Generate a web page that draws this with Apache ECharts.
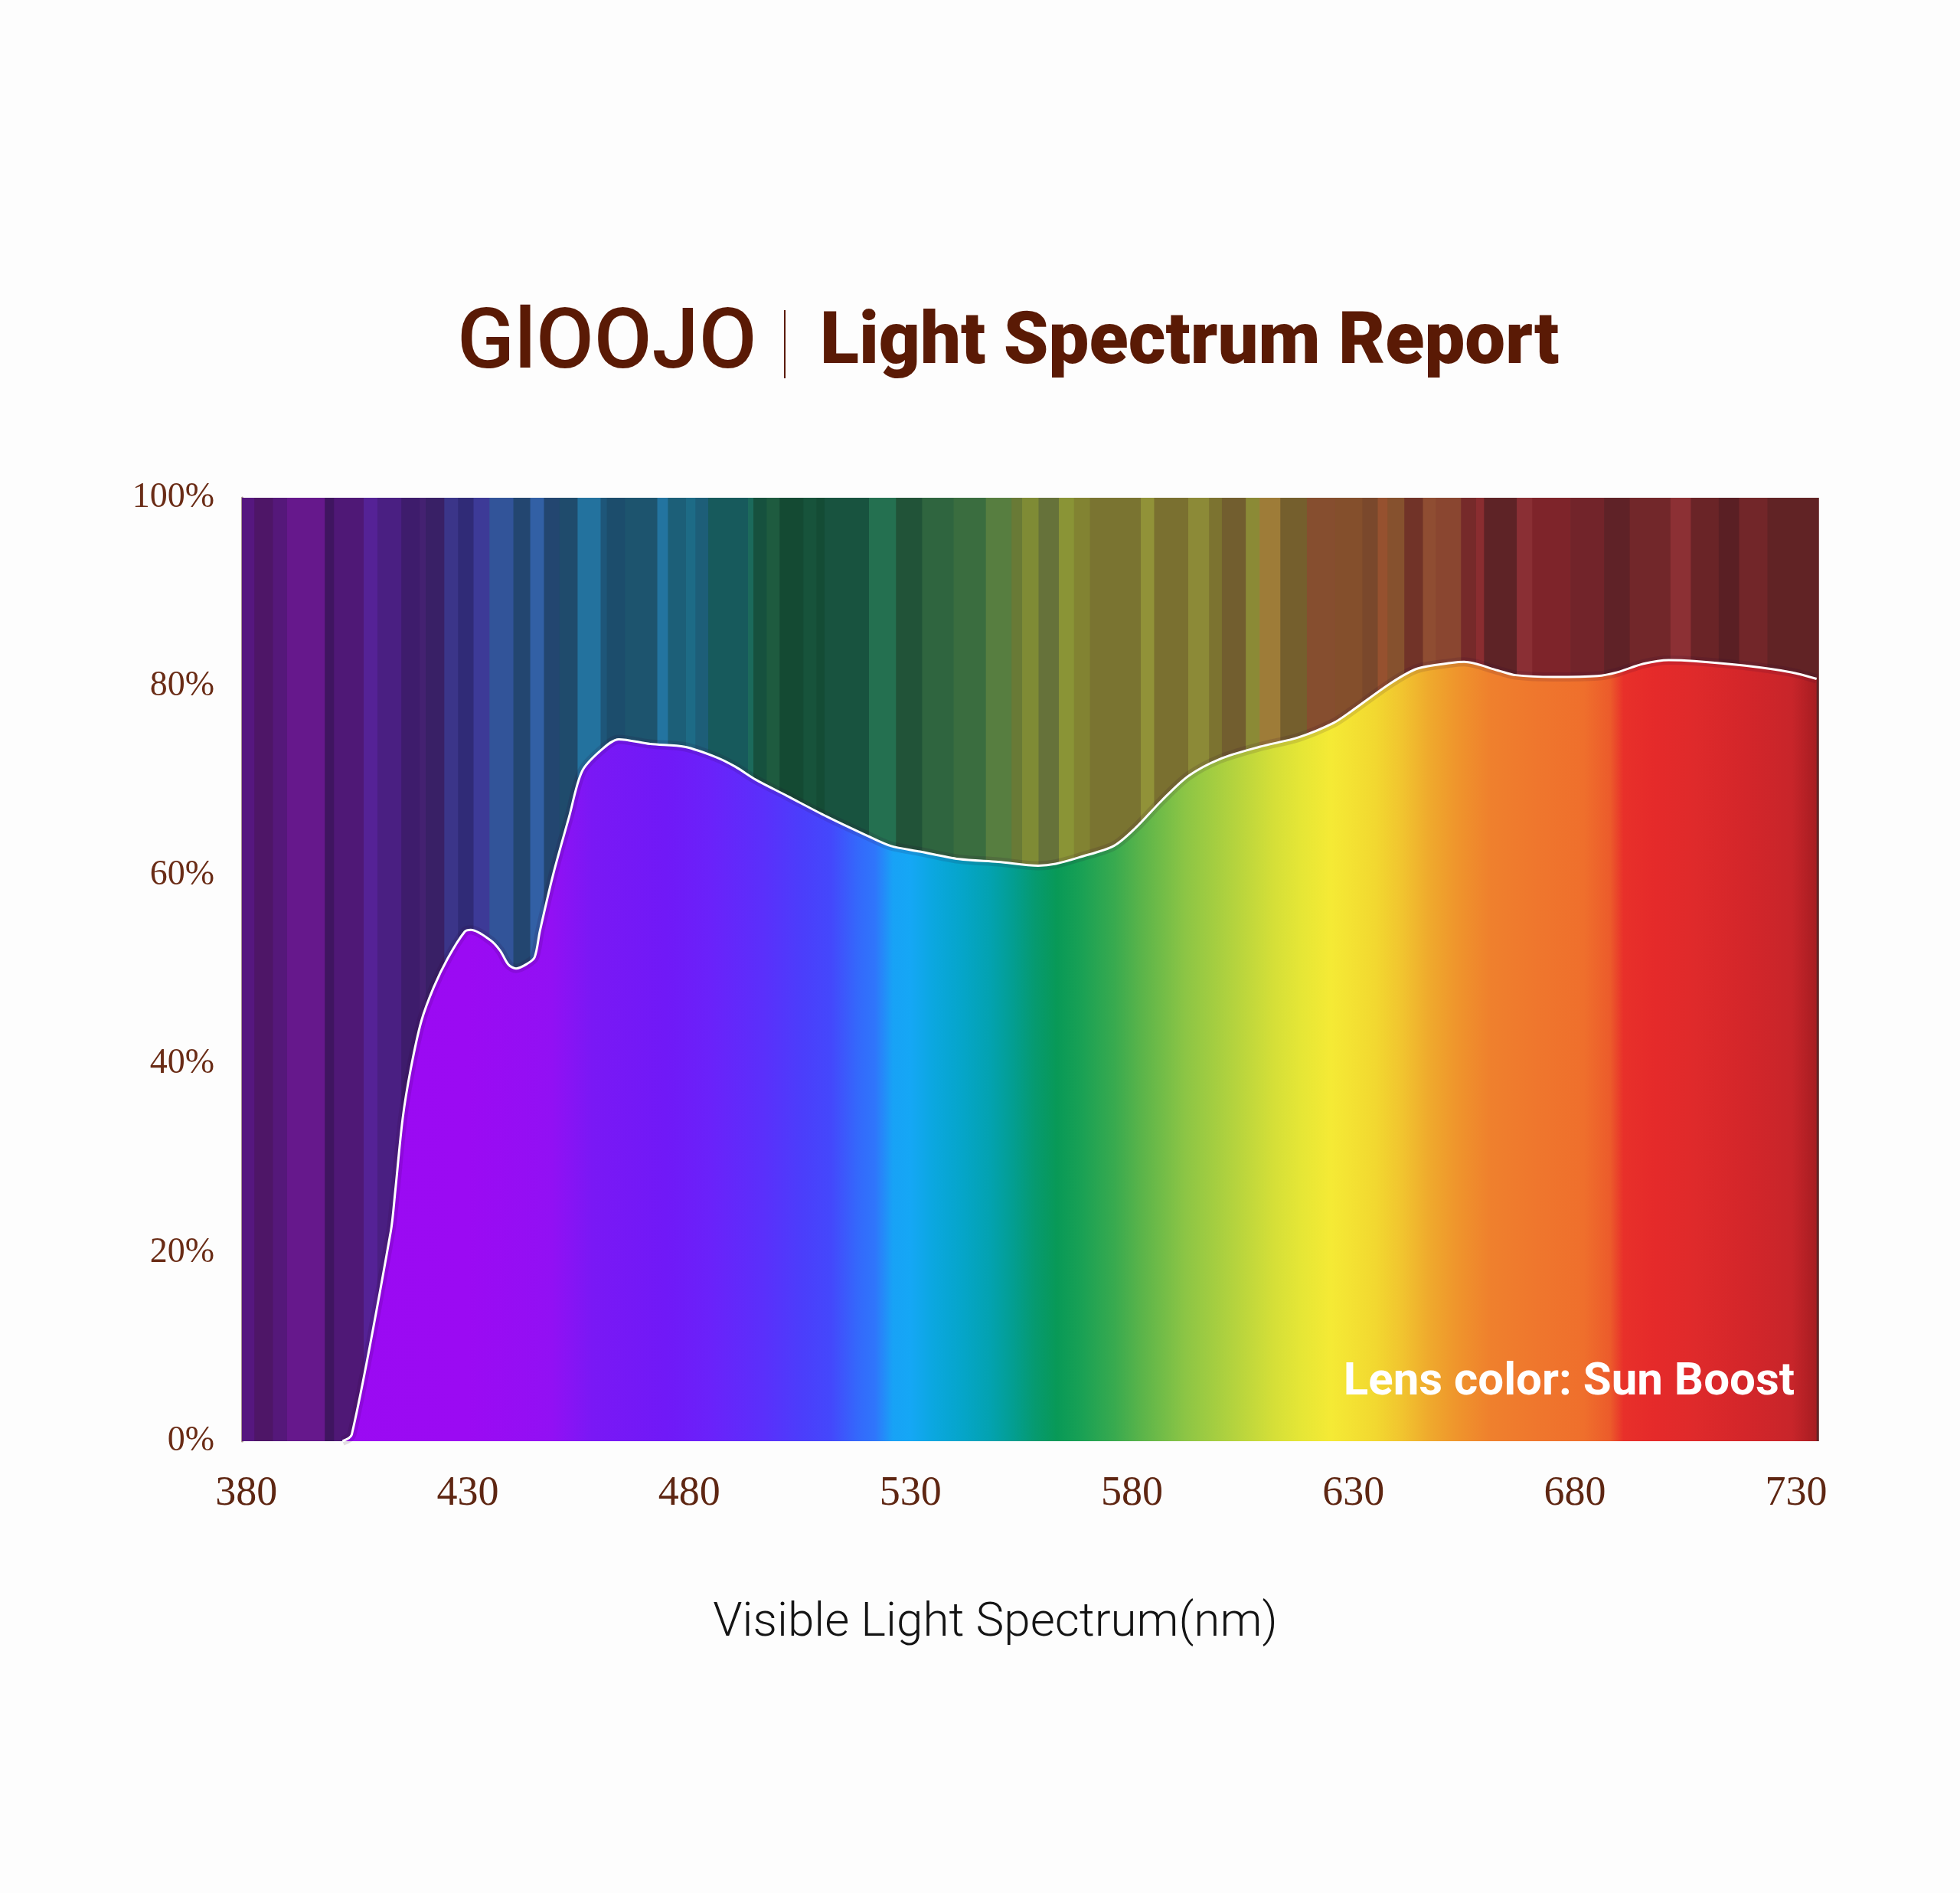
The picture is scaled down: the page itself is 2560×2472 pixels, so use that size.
<!DOCTYPE html>
<html>
<head>
<meta charset="utf-8">
<script src="https://cdn.jsdelivr.net/npm/echarts@6/dist/echarts.min.js"></script>
<style>
html,body{margin:0;padding:0;background:#fdfdfd;}
#chart{width:2560px;height:2472px;}
</style>
</head>
<body>
<div id="chart"></div>
<script>
// ---- data ----
const wavelengths = [379, 401.7, 403.8, 412.6, 413.6, 415.3, 417.1, 419.5, 422.3, 425.5, 429.3, 430.7,
  435.1, 437.3, 439.2, 440.9, 443.4, 445.1, 446.3, 449.3, 452.9, 455.8, 460.0, 464.1, 471.2, 479.0,
  486.1, 490.4, 495.1, 502.1, 511.1, 520.1, 525.5, 532.1, 540.9, 549.8, 558.8, 562.8, 568.2, 575.9,
  580.8, 586.7, 592.7, 599.8, 608.8, 617.6, 625.4, 629.6, 638.6, 644.5, 652.3, 655.0, 662.6, 666.6,
  675.2, 685.1, 689.6, 695.5, 701.2, 706.9, 718.5, 728.9, 734.6];
const transmittance = [0, 0, 0.7, 22.2, 26.4, 34.2, 39.4, 44.5, 48.1, 51.2, 54.0, 54.2,
  53.1, 52.0, 50.5, 50.1, 50.6, 51.3, 54.1, 60.1, 66.2, 71.0, 73.2, 74.4, 73.9, 73.6,
  72.5, 71.5, 70.1, 68.4, 66.2, 64.2, 63.1, 62.5, 61.7, 61.4, 61.0, 61.2, 61.9, 63.1,
  65.0, 67.9, 70.5, 72.3, 73.6, 74.6, 76.1, 77.4, 80.4, 81.9, 82.5, 82.6, 81.7, 81.2,
  81.0, 81.1, 81.5, 82.4, 82.8, 82.7, 82.2, 81.5, 80.8];
const xTickLabels = [380, 430, 480, 530, 580, 630, 680, 730];
const yTickLabels = [0, 20, 40, 60, 80, 100];

// background (dimmed) spectrum stripes: start wavelength of each stripe
const stripeStarts = [379, 381.8, 386, 389.2, 397.7, 399.8, 406.5, 409.6, 415, 419.1, 420.5, 424.7,
  427.8, 431.3, 434.9, 440.3, 444.1, 447.2, 450.7, 454.8, 460, 461.4, 465.5, 472.8, 475.2, 479.3,
  481.4, 484.3, 493.3, 494.5, 497.5, 500.4, 505.8, 508.7, 510.6, 520.6, 526.7, 532.6, 539.7, 547,
  552.8, 555.2, 558.9, 563.5, 566.9, 570.5, 582, 585, 592.7, 597.4, 600.3, 605.7, 608.8, 613.5,
  619.5, 625.9, 632, 635.5, 637.7, 641.5, 645.7, 648.6, 654.3, 657.7, 659.5, 666.9, 670.4, 679,
  686.6, 692.4, 701.6, 706.2, 712.5, 717.1, 723.5];
const stripeEnd = 735;
const stripeColors = ['#56177f', '#4e1667', '#55187a', '#66188c', '#3f1560', '#4f1876', '#552296', '#4a1f82',
  '#3e1c6c', '#442171', '#392066', '#3b3589', '#302b77', '#3d3a97', '#325499', '#234670', '#3260a5',
  '#234670', '#1f4b6c', '#23729e', '#1e5679', '#1c4d6c', '#1d546e', '#2374a0', '#1c5f78', '#1d6b86',
  '#1d5e78', '#175a5c', '#1b6a5b', '#16513e', '#1e5b3f', '#144a33', '#17533b', '#144c35', '#18533f',
  '#247050', '#215338', '#2f653f', '#3a6d3f', '#577e40', '#697a36', '#7f8b35', '#66723a', '#8a9436',
  '#828332', '#7a7431', '#919238', '#7a7030', '#8c8a37', '#7c7330', '#725e2f', '#8b8a36', '#9e7c38',
  '#755f2d', '#864e2f', '#844f2c', '#7a482c', '#96512f', '#86512e', '#713328', '#8f4d32', '#8a4630',
  '#762a2a', '#8a2d30', '#5e2326', '#8a2f34', '#7e242a', '#72242a', '#5f2227', '#72272a', '#8c3034',
  '#6a2427', '#5a1f24', '#722629', '#612325'];

// vivid spectrum under the curve
const spectrumStops = [379, 430, 449, 458, 475, 485, 497, 505, 512, 518, 522, 526, 530, 535, 542, 548,
  553, 558, 563, 568, 576, 582, 592, 603, 612, 618, 625, 635, 641, 647, 653, 661, 672, 682, 688, 691,
  698, 707, 718, 729, 733, 735];
const spectrumColors = ['#9a0af2', '#9b0af3', '#9210f4', '#7a18f5', '#7019f7', '#6a22fa', '#5a30fb', '#4c3dfb',
  '#4448fc', '#3468fb', '#2f76fb', '#18a2f6', '#15a7f5', '#0ba7e0', '#05a5c8', '#03a2b0', '#039e92',
  '#069a70', '#089957', '#17a055', '#38aa4f', '#5ab44a', '#8cc545', '#b4d33e', '#d5df38', '#e5e636',
  '#f5ea35', '#f2d830', '#f1c42f', '#efaa2d', '#ef962c', '#ef802d', '#ef762d', '#ef6f2c', '#ec5b2b',
  '#e8302a', '#e52a2a', '#df2a2b', '#d4262a', '#c8252a', '#b01f24', '#a61d22'];

// ---- chart ----
const chart = echarts.init(document.getElementById('chart'), null, {renderer: 'canvas'});
const xMin = 379, xMax = 735;
const curve = wavelengths.map((w, i) => [w, transmittance[i]]);
const firstRise = transmittance.findIndex(v => v > 0) - 1;
const lineCurve = curve.slice(Math.max(0, firstRise));
const stripes = stripeStarts.map((s, i) => [s, i + 1 < stripeStarts.length ? stripeStarts[i + 1] : stripeEnd, i]);
const wFirst = wavelengths[0], wLast = wavelengths[wavelengths.length - 1];
const gradStops = spectrumStops.map((w, i) => ({
  offset: Math.min(1, Math.max(0, (w - wFirst) / (wLast - wFirst))),
  color: spectrumColors[i]
}));

const brown = '#5a1a05';
const option = {
  backgroundColor: '#fdfdfd',
  animation: false,
  grid: {left: 316, right: 185, top: 650, bottom: 590, containLabel: false},
  xAxis: {
    type: 'value', min: xMin, max: xMax,
    axisLine: {show: false}, axisTick: {show: false}, splitLine: {show: false},
    axisLabel: {
      customValues: xTickLabels,
      margin: 42,
      fontFamily: '"Liberation Serif", "DejaVu Serif", serif',
      fontSize: 54, color: '#5e2612'
    }
  },
  yAxis: {
    type: 'value', min: 0, max: 100,
    axisLine: {show: true, lineStyle: {color: '#a8978f', width: 3}},
    axisTick: {show: false}, splitLine: {show: false},
    axisLabel: {
      customValues: yTickLabels,
      formatter: '{value}%', margin: 36,
      fontFamily: '"Liberation Serif", "DejaVu Serif", serif',
      fontSize: 46, color: '#6a2c16'
    }
  },
  series: [
    {
      type: 'custom', name: 'stripes', z: 1, silent: true,
      data: stripes,
      encode: {x: [0, 1]},
      renderItem: function (params, api) {
        const a = api.coord([api.value(0), 100]);
        const b = api.coord([api.value(1), 0]);
        return {
          type: 'rect',
          shape: {x: a[0], y: a[1], width: b[0] - a[0] + 0.8, height: b[1] - a[1]},
          style: {fill: stripeColors[api.value(2)]}
        };
      }
    },
    {
      type: 'line', name: 'fill', z: 2, silent: true,
      data: curve, smooth: 0.3, symbol: 'none',
      lineStyle: {width: 0},
      areaStyle: {opacity: 1, color: new echarts.graphic.LinearGradient(0, 0, 1, 0, gradStops)}
    },
    {
      type: 'line', name: 'rim', z: 3, silent: true,
      data: lineCurve, smooth: 0.3, symbol: 'none',
      lineStyle: {width: 12, color: 'rgba(40,0,50,0.12)'}
    },
    {
      type: 'line', name: 'curve', z: 4, silent: true,
      data: lineCurve, smooth: 0.3, symbol: 'none',
      lineStyle: {width: 3, color: '#ffffff'}
    }
  ],
  graphic: [
    {type: 'text', x: 597, y: 452, z: 10, style: {
      text: 'GlOOJO', font: '500 110px Roboto, "Noto Sans", sans-serif', fill: brown,
      align: 'left', verticalAlign: 'middle', textAlign: 'left', textVerticalAlign: 'middle'}},
    {type: 'line', z: 10, shape: {x1: 1025, y1: 405, x2: 1025, y2: 494}, style: {stroke: brown, lineWidth: 2}},
    {type: 'text', x: 1071, y: 450, z: 10, style: {
      text: 'Light Spectrum Report', font: '900 94px Roboto, Inter, sans-serif', fill: brown,
      align: 'left', verticalAlign: 'middle', textAlign: 'left', textVerticalAlign: 'middle'}},
    {type: 'text', x: 1300, y: 2120, z: 10, style: {
      text: 'Visible Light Spectrum(nm)', font: '300 62px Roboto, "Noto Sans", sans-serif', fill: '#141414',
      align: 'center', verticalAlign: 'middle', textAlign: 'center', textVerticalAlign: 'middle'}},
    {type: 'text', x: 2344, y: 1806, z: 10, style: {
      text: 'Lens color: Sun Boost', font: '700 60px Roboto, Inter, sans-serif', fill: '#ffffff',
      align: 'right', verticalAlign: 'middle', textAlign: 'right', textVerticalAlign: 'middle'}}
  ]
};
chart.setOption(option);
</script>
</body>
</html>
